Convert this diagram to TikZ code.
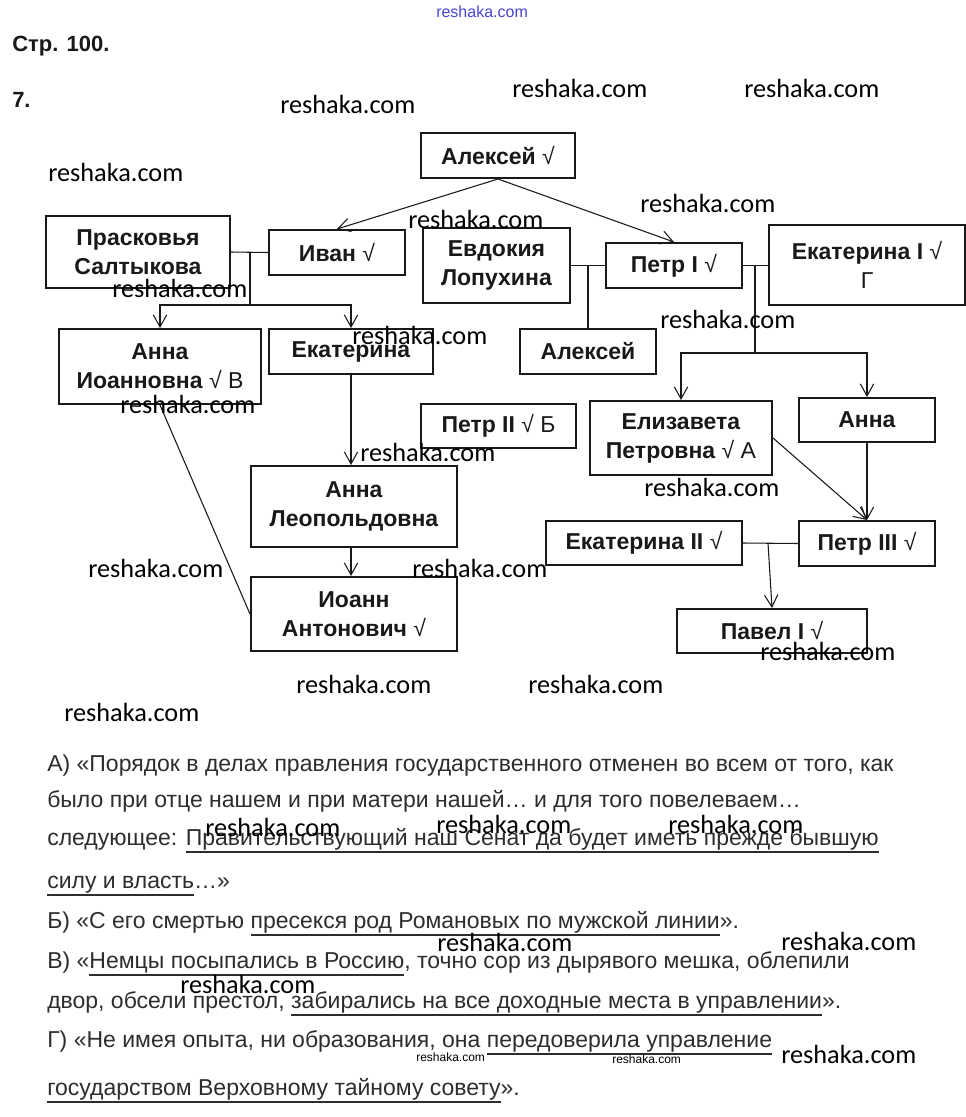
\documentclass[tikz,border=0pt]{standalone}
\usepackage{fontspec}
\setmainfont{Liberation Sans}
\newfontfamily\wmfont{Carlito}
\usetikzlibrary{arrows.meta}
\definecolor{ink}{RGB}{25,25,25}
\definecolor{bodyc}{RGB}{45,45,45}
\definecolor{wmblue}{RGB}{70,70,210}
\newcommand\ulx[1]{\setbox0\hbox{#1}\rlap{\rule[-6pt]{\wd0}{1.3pt}}\box0}
\begin{document}
\begin{tikzpicture}[x=0.75pt,y=-0.75pt,
 bx/.style={draw=ink, line width=1.5pt, inner sep=0pt, align=center, text=ink, font=\fontsize{17.25}{21.75}\selectfont},
 ln/.style={draw=ink, line width=0.8pt},
 arr/.style={ln, -{Straight Barb[length=9pt,width=10pt]}},
 wm/.style={font=\wmfont\fontsize{19.7}{20}\selectfont, anchor=base west, inner sep=0pt, text=black},
 wmsmall/.style={font=\fontsize{9}{10}\selectfont, anchor=base west, inner sep=0pt, text=black},
 bodyline/.style={font=\fontsize{17.25}{18}\selectfont, anchor=base west, inner sep=0pt, text=bodyc},
 head/.style={font=\bfseries\fontsize{16.5}{18}\selectfont, anchor=base west, inner sep=0pt, text=ink},
]
\fill[white] (0,0) rectangle (966,1117);
\path[use as bounding box] (0,0) rectangle (966,1117);

% headings
\node[head] (hdr) at (12,51) {Стр. 100.};
\node[head] (num) at (12,107) {7.};

% boxes
\node[bx, minimum width=115.5pt, minimum height=33.75pt] (alx) at (498,155.5) {\textbf{Алексей} √};
\node[bx, minimum width=102pt, minimum height=33.75pt] (ivan) at (337,252.5) {\textbf{Иван} √};
\node[bx, minimum width=138pt, minimum height=54pt] (prask) at (138,252) {\textbf{Прасковья}\\\textbf{Салтыкова}};
\node[bx, minimum width=110.25pt, minimum height=56.25pt] (evd) at (496.5,265.5) {\textbf{Евдокия}\\\textbf{Лопухина}};
\node[bx, minimum width=102pt, minimum height=33.75pt] (petr1) at (674,265.5) {\textbf{Петр I} √};
\node[bx, minimum width=147pt, minimum height=60pt] (ekat1) at (867,265) {\textbf{Екатерина I} √\\Г};
\node[bx, minimum width=151.5pt, minimum height=56.25pt] (annai) at (160,366.5) {\textbf{Анна}\\\textbf{Иоанновна} √ В};
\node[bx, minimum width=123pt, minimum height=33.75pt] (ekat) at (351,351.5) {\textbf{Екатерина}};
\node[bx, minimum width=102pt, minimum height=33.75pt] (alx2) at (588,351.5) {\textbf{Алексей}};
\node[bx, minimum width=116.25pt, minimum height=33pt] (petr2) at (498.5,426) {\textbf{Петр II} √ Б};
\node[bx, minimum width=136.5pt, minimum height=55.5pt] (eliz) at (681,438) {\textbf{Елизавета}\\\textbf{Петровна} √ А};
\node[bx, minimum width=102pt, minimum height=33pt] (annar) at (867,420) {\textbf{Анна}};
\node[bx, minimum width=154.5pt, minimum height=60.75pt] (annal) at (354,506.5) {\textbf{Анна}\\\textbf{Леопольдовна}};
\node[bx, minimum width=154.5pt, minimum height=55.5pt] (ioann) at (354,614) {\textbf{Иоанн}\\\textbf{Антонович} √};
\node[bx, minimum width=147pt, minimum height=33pt] (ekat2) at (644,543) {\textbf{Екатерина II} √};
\node[bx, minimum width=102pt, minimum height=33.75pt] (petr3) at (867,543.5) {\textbf{Петр III} √};
\node[bx, minimum width=142.5pt, minimum height=33pt] (pavel) at (772,631) {\textbf{Павел I} √};

% connectors
\coordinate (m1) at (250,252);
\coordinate (j1) at (250,305);
\coordinate (m2) at (588,265.5);
\coordinate (m3) at (755,265);
\coordinate (j3) at (755,353);
\coordinate (m4) at (768,543);

\draw[arr] (alx.south) -- (ivan.north);
\draw[arr] (alx.south) -- (petr1.north);
\draw[ln] (prask.east) -- (ivan.west);
\draw[ln] (m1) -- (j1);
\draw[arr] (j1) -| (annai.north);
\draw[arr] (j1) -| (ekat.north);
\draw[ln] (evd.east) -- (petr1.west);
\draw[ln] (m2) -- (alx2.north);
\draw[ln] (petr1.east) -- (ekat1.west |- petr1.east);
\draw[ln] (m3) -- (j3);
\draw[arr] (j3) -| (eliz.north);
\draw[arr] (j3) -| (annar.north);
\draw[arr] (ekat.south) -- (ekat.south |- annal.north);
\draw[arr] (annal.south -| ekat.south) -- (ioann.north -| ekat.south);
\draw[ln] (annai.south) -- (ioann.west);
\draw[arr] (eliz.east) -- (petr3.north);
\draw[arr] (annar.south) -- (petr3.north);
\draw[ln] (ekat2.east) -- (petr3.west);
\draw[arr] (m4) -- (pavel.north);

% text lines
\node[bodyline] (t1) at (47,771) {А) «Порядок в делах правления государственного отменен во всем от того, как};
\node[bodyline] (t2) at (47,807) {было при отце нашем и при матери нашей… и для того повелеваем…};
\node[bodyline] (t3) at (47,845) {следующее: \ulx{Правительствующий наш Сенат да будет иметь прежде бывшую}};
\node[bodyline] (t4) at (47,888) {\ulx{силу и власть}…»};
\node[bodyline] (t5) at (47,928) {Б) «С его смертью \ulx{пресекся род Романовых по мужской линии}».};
\node[bodyline] (t6) at (47,968) {В) «\ulx{Немцы посыпались в Россию}, точно сор из дырявого мешка, облепили};
\node[bodyline] (t7) at (47,1008) {двор, обсели престол, \ulx{забирались на все доходные места в управлении}».};
\node[bodyline] (t8) at (47,1047) {Г) «Не имея опыта, ни образования, она \ulx{передоверила управление}};
\node[bodyline] (t9) at (47,1095) {\ulx{государством Верховному тайному совету}».};

% watermarks
\node[anchor=base west, inner sep=0pt, text=wmblue, font=\fontsize{12}{12}\selectfont] (wm0) at (436,17) {reshaka.com};
\node[wm] (wm1) at (280,113) {reshaka.com};
\node[wm] (wm2) at (512,97) {reshaka.com};
\node[wm] (wm3) at (744,97) {reshaka.com};
\node[wm] (wm4) at (48,181) {reshaka.com};
\node[wm] (wm5) at (408,228) {reshaka.com};
\node[wm] (wm6) at (640,212) {reshaka.com};
\node[wm] (wm7) at (112,297) {reshaka.com};
\node[wm] (wm8) at (352,344) {reshaka.com};
\node[wm] (wm9) at (660,328) {reshaka.com};
\node[wm] (wm10) at (120,413) {reshaka.com};
\node[wm] (wm11) at (360,461) {reshaka.com};
\node[wm] (wm12) at (644,496) {reshaka.com};
\node[wm] (wm13) at (88,577) {reshaka.com};
\node[wm] (wm14) at (412,577) {reshaka.com};
\node[wm] (wm15) at (760,660) {reshaka.com};
\node[wm] (wm16) at (296,693) {reshaka.com};
\node[wm] (wm17) at (528,693) {reshaka.com};
\node[wm] (wm18) at (64,721) {reshaka.com};
\node[wm] (wm19) at (205,836) {reshaka.com};
\node[wm] (wm20) at (436,833) {reshaka.com};
\node[wm] (wm21) at (668,833) {reshaka.com};
\node[wm] (wm22) at (437,951) {reshaka.com};
\node[wm] (wm23) at (781,950) {reshaka.com};
\node[wm] (wm24) at (180,993) {reshaka.com};
\node[wm] (wm25) at (781,1063) {reshaka.com};
\node[wmsmall] (wm26) at (416,1061) {reshaka.com};
\node[wmsmall] (wm27) at (612,1063) {reshaka.com};
\end{tikzpicture}
\end{document}
